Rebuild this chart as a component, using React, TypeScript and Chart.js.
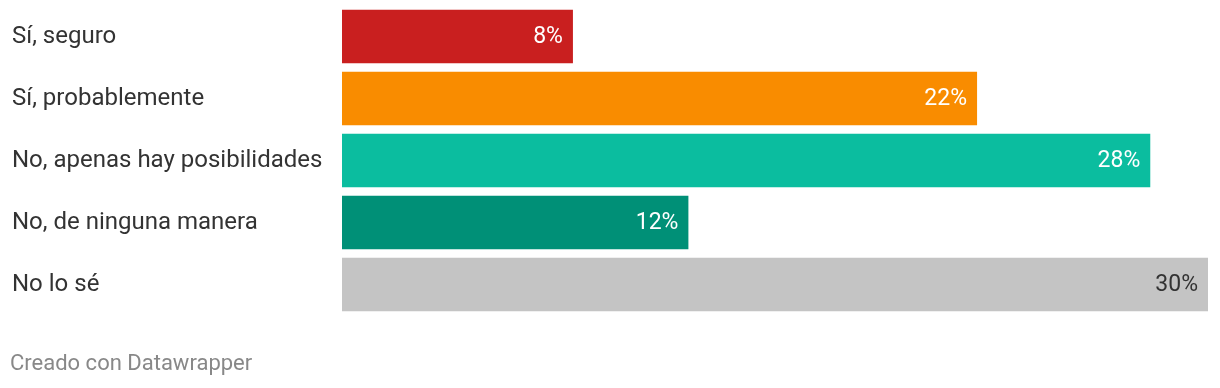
import React, { useEffect, useRef } from "react";
import { Chart, registerables } from "chart.js";

Chart.register(...registerables);

const categories = [
  "Sí, seguro",
  "Sí, probablemente",
  "No, apenas hay posibilidades",
  "No, de ninguna manera",
  "No lo sé",
];
const values = [8, 22, 28, 12, 30];
const valueLabels = ["8%", "22%", "28%", "12%", "30%"];
const barColors = ["#c91f1f", "#f98c00", "#0bbd9f", "#009077", "#c4c4c4"];
const labelColors = ["#ffffff", "#ffffff", "#ffffff", "#ffffff", "#333333"];
const footerText = "Creado con Datawrapper";

const FONT = "Roboto";

export default function App() {
  const ref = useRef<HTMLCanvasElement>(null);

  useEffect(() => {
    const canvas = ref.current;
    if (!canvas) return;

    const valuePlugin = {
      id: "valueLabels",
      afterDatasetsDraw(chart: any) {
        const ctx = chart.ctx;
        const meta = chart.getDatasetMeta(0);
        ctx.save();
        ctx.font = `23px ${FONT}`;
        ctx.textAlign = "right";
        ctx.textBaseline = "middle";
        meta.data.forEach((bar: any, i: number) => {
          ctx.fillStyle = labelColors[i];
          ctx.fillText(valueLabels[i], bar.x - 10, bar.y + 1);
        });
        ctx.restore();
      },
    };

    const footerPlugin = {
      id: "footer",
      afterDraw(chart: any) {
        const ctx = chart.ctx;
        ctx.save();
        ctx.font = `22px ${FONT}`;
        ctx.fillStyle = "#888888";
        ctx.textAlign = "left";
        ctx.textBaseline = "middle";
        ctx.fillText(footerText, 10, 364);
        ctx.restore();
      },
    };

    const chart = new Chart(canvas, {
      type: "bar",
      data: {
        labels: categories,
        datasets: [
          {
            data: values,
            backgroundColor: barColors,
            borderWidth: 0,
            categoryPercentage: 1,
            barPercentage: 0.863,
          },
        ],
      },
      options: {
        indexAxis: "y",
        animation: false,
        responsive: false,
        maintainAspectRatio: false,
        events: [],
        layout: {
          padding: { left: 12, right: 12, top: 5.5, bottom: 72.5 },
        },
        plugins: {
          legend: { display: false },
          tooltip: { enabled: false },
        },
        scales: {
          x: {
            display: false,
            min: 0,
            max: 30,
          },
          y: {
            grid: { display: false },
            border: { display: false },
            ticks: {
              crossAlign: "far",
              color: "#333333",
              font: { family: FONT, size: 24 },
              padding: 0,
            },
            afterFit(scale: any) {
              scale.width = 330;
              scale.paddingTop = 0;
              scale.paddingBottom = 0;
            },
          },
        },
      },
      plugins: [valuePlugin, footerPlugin],
    });

    return () => chart.destroy();
  }, []);

  return (
    <div style={{ position: "fixed", left: 0, top: 0, width: 1220, height: 388, background: "#ffffff" }}>
      <canvas ref={ref} width={1220} height={388} style={{ display: "block" }} />
    </div>
  );
}
